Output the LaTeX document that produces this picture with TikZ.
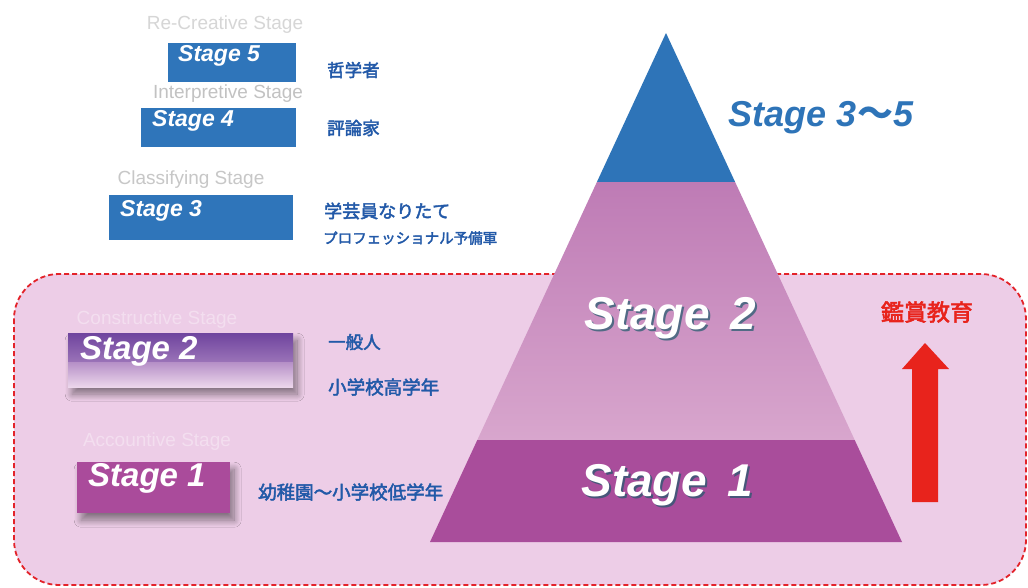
\documentclass[tikz,border=0pt]{standalone}
\usepackage{fontspec}
\setmainfont{Liberation Sans}
\newfontfamily\jp{Noto Sans CJK JP}[AutoFakeBold=2.5]
\usetikzlibrary{shadows.blur}
\definecolor{pyblue}{HTML}{2E74B8}
\definecolor{boxblue}{HTML}{2F75BA}
\definecolor{st1}{HTML}{A94D9B}
\definecolor{st2top}{HTML}{BE7BB5}
\definecolor{st2bot}{HTML}{D8A6CD}
\definecolor{bgpink}{HTML}{EDCDE7}
\definecolor{dashred}{HTML}{E3232A}
\definecolor{jpblue}{HTML}{2259A8}
\definecolor{arrowred}{HTML}{E8231C}
\definecolor{sbtop}{HTML}{6F449E}
\definecolor{sbmid}{HTML}{9A73B8}
\definecolor{sblow}{HTML}{B58FC7}
\definecolor{sbbot}{HTML}{ECD6EB}
\definecolor{smallst1}{HTML}{AA4B9B}
\definecolor{txtshadow}{HTML}{1E5A6C}
\tikzset{
  stxt/.style={font=\fontsize{23}{23}\selectfont\bfseries\itshape, text=white, inner sep=0pt, anchor=base west},
  stxtbig/.style={font=\fontsize{33}{33}\selectfont\bfseries\itshape, text=white, inner sep=0pt, anchor=base west},
  pytxt/.style={font=\fontsize{46}{46}\selectfont\bfseries\itshape, text=white, inner sep=0pt},
  pyshadow/.style={font=\fontsize{46}{46}\selectfont\bfseries\itshape, text=txtshadow, opacity=0.7, inner sep=0pt},
  jptxt/.style={font=\jp\bfseries\fontsize{17.5}{17.5}\selectfont, text=jpblue, inner sep=0pt, anchor=west},
  faint/.style={font=\fontsize{19}{19}\selectfont, inner sep=0pt},
  sbox/.style={inner sep=0pt, anchor=north west, draw=none},
  softshadow/.style={blur shadow={shadow xshift=4pt, shadow yshift=-7pt, shadow blur steps=14, shadow blur radius=7pt, shadow opacity=45}},
}
\begin{document}
\begin{tikzpicture}[x=1pt,y=-1pt]
\useasboundingbox (0,0) rectangle (1028,587);
\fill[white] (0,0) rectangle (1028,587);
% background region
\draw[dashred, line width=1.8pt, dash pattern=on 5pt off 3pt, fill=bgpink, rounded corners=45pt] (14,274) rectangle (1026,585);

% pyramid
\coordinate (apex) at (666,33);
\coordinate (p3l) at (596.9,182);
\coordinate (p3r) at (735.1,182);
\coordinate (p2l) at (477.3,440);
\coordinate (p2r) at (854.7,440);
\coordinate (p1l) at (430,542);
\coordinate (p1r) at (902,542);
\fill[pyblue] (apex) -- (p3r) -- (p3l) -- cycle;
\shade[top color=st2top, bottom color=st2bot] (p3l) -- (p3r) -- (p2r) -- (p2l) -- cycle;
\fill[st1] (p2l) -- (p2r) -- (p1r) -- (p1l) -- cycle;

\node[pyshadow] (py2s) at (672,320) {Stage\, 2};
\node[pytxt] (py2) at (670,318) {Stage\, 2};
\node[pyshadow] (py1s) at (669,487) {Stage\, 1};
\node[pytxt] (py1) at (667,485) {Stage\, 1};

\node[font=\fontsize{36}{36}\selectfont\bfseries\itshape, text=pyblue, inner sep=0pt] (py35) at (821,118) {Stage 3{\jp\bfseries ～}5};

% arrow and label
\node[font=\jp\bfseries\fontsize{23}{23}\selectfont, text=arrowred, inner sep=0pt] (kansho) at (927,312) {鑑賞教育};
\fill[arrowred] (925,343) -- (949,369) -- (938,369) -- (938,502) -- (912,502) -- (912,369) -- (902,369) -- cycle;

% faint stage names
\node[faint, text=black!16] (n5) at (225,25) {Re-Creative Stage};
\node[faint, text=black!24] (n4) at (228,94) {Interpretive Stage};
\node[faint, text=black!22] (n3) at (191,180) {Classifying Stage};
\node[faint, text=white, opacity=0.35] (n2) at (157,320) {Constructive Stage};
\node[faint, text=white, opacity=0.35] (n1) at (157,442) {Accountive Stage};

% left stage boxes
\node[sbox, fill=boxblue, minimum width=128pt, minimum height=39pt] (b5) at (168,43) {};
\node[stxt] (t5) at (178,61) {Stage 5};
\node[sbox, fill=boxblue, minimum width=155pt, minimum height=39pt] (b4) at (141,108) {};
\node[stxt] (t4) at (152,126) {Stage 4};
\node[sbox, fill=boxblue, minimum width=184pt, minimum height=45pt] (b3) at (109,195) {};
\node[stxt] (t3) at (120,216) {Stage 3};

\node[sbox, minimum width=225pt, minimum height=54pt, fill=sbmid, softshadow] (b2) at (68,333) {};
\shade[top color=sbtop, bottom color=sbmid] (68,333) rectangle (293,362);
\shade[top color=sblow, bottom color=sbbot] (68,362) rectangle (293,387);
\node[stxtbig] (t2) at (80,359) {Stage 2};

\node[sbox, fill=smallst1, minimum width=153pt, minimum height=51pt, softshadow] (b1) at (77,462) {};
\node[stxtbig] (t1) at (88,486) {Stage 1};

% japanese descriptions
\node[jptxt] (j5) at (327,70) {哲学者};
\node[jptxt] (j4) at (327,128) {評論家};
\node[jptxt, font=\jp\bfseries\fontsize{18}{18}\selectfont] (j3a) at (324,211) {学芸員なりたて};
\node[jptxt, font=\jp\bfseries\fontsize{14.5}{14.5}\selectfont] (j3b) at (323,238) {プロフェッショナル予備軍};
\node[jptxt] (j2a) at (328,342) {一般人};
\node[jptxt, font=\jp\bfseries\fontsize{18.5}{18.5}\selectfont] (j2b) at (328,387) {小学校高学年};
\node[jptxt, font=\jp\bfseries\fontsize{18.5}{18.5}\selectfont] (j1) at (258,492) {幼稚園～小学校低学年};
\end{tikzpicture}
\end{document}
